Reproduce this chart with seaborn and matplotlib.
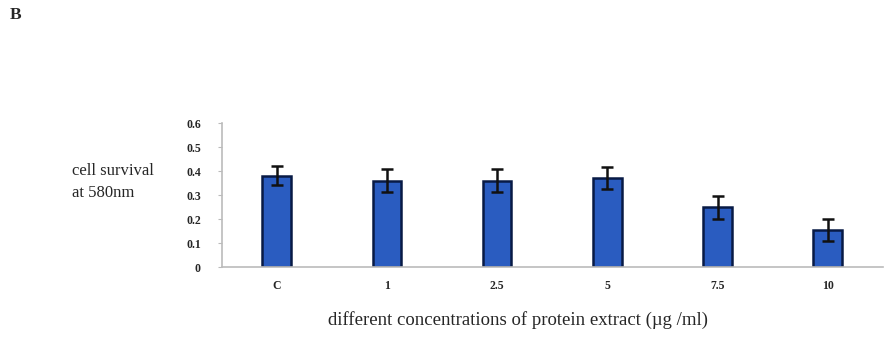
import matplotlib
matplotlib.use("Agg")
import matplotlib.pyplot as plt
import seaborn as sns
import pandas as pd
import numpy as np

categories = ["C", "1", "2.5", "5", "7.5", "10"]
values = [0.38, 0.36, 0.36, 0.37, 0.25, 0.155]
errors = [0.04, 0.047, 0.047, 0.045, 0.048, 0.045]
yticks = [0, 0.1, 0.2, 0.3, 0.4, 0.5, 0.6]
ytick_labels = ["0", "0.1", "0.2", "0.3", "0.4", "0.5", "0.6"]

sns.set_style("white")
plt.rcParams["font.family"] = ["Liberation Serif", "DejaVu Serif"]

df = pd.DataFrame({"conc": categories, "val": values})

fig = plt.figure(figsize=(8.9, 3.38), dpi=100)
ax = fig.add_axes([0.249, 0.210, 0.743, 0.426])
sns.barplot(data=df, x="conc", y="val", order=categories, color="#2a5cc0",
            width=0.26, edgecolor="#081a45", linewidth=1.8, ax=ax, errorbar=None,
            saturation=1)
ax.errorbar(np.arange(len(categories)), values, yerr=errors, fmt="none",
            ecolor="#111111", elinewidth=1.8, capsize=4, capthick=1.8)

ax.set_xlim(-0.5, 5.5)
ax.set_ylim(0, 0.6)
ax.set_yticks(yticks)
ax.set_yticklabels(ytick_labels, fontweight="bold", fontsize=8.5)
ax.set_xticks(range(len(categories)))
ax.set_xticklabels(categories, fontweight="bold", fontsize=8.5)
ax.tick_params(axis="y", length=3, color="#bbbbbb", left=True, pad=12)
ax.tick_params(axis="x", length=0, pad=9)
for s in ["top", "right"]:
    ax.spines[s].set_visible(False)
for s in ["left", "bottom"]:
    ax.spines[s].set_color("#bbbbbb")
    ax.spines[s].set_linewidth(1.2)
ax.set_xlabel("")
ax.set_ylabel("")

fig.text(72 / 890, 1 - 182 / 338, "cell survival\nat 580nm", fontsize=12,
         ha="left", va="center", linespacing=1.45)
fig.text(518 / 890, 1 - 320 / 338, "different concentrations of protein extract (\u00b5g /ml)",
         fontsize=13.5, ha="center", va="center")
fig.text(10 / 890, 1 - 15 / 338, "B", fontsize=12.5, fontweight="bold", ha="left", va="center")

fig.savefig("out.png", dpi=100)
